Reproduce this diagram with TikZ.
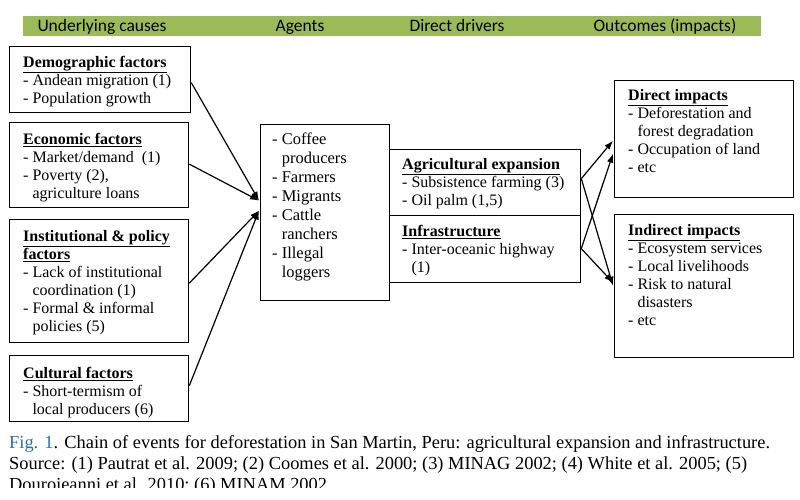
\documentclass[tikz,border=0pt]{standalone}
\usepackage{fontspec}
\setmainfont{Liberation Serif}
\newfontfamily\hdrfont{Carlito}
\usetikzlibrary{arrows.meta,calc}
\definecolor{hdrgreen}{RGB}{155,187,89}
\definecolor{figblue}{RGB}{40,110,180}
\newcommand{\ind}{\phantom{- }}
\begin{document}
\begin{tikzpicture}[x=1pt,y=-1pt,
  frame/.style={draw=black, line width=1.3pt, anchor=north west, inner sep=0pt},
  txt/.style={anchor=north west, inner sep=0pt, align=left, font=\fontsize{16}{18}\selectfont},
  link/.style={line width=1.2pt, -{Latex[length=9pt,width=6.5pt]}},
  hdr/.style={font=\hdrfont\fontsize{17.5}{20}\selectfont, anchor=base, inner sep=0pt},
  captxt/.style={anchor=base west, inner sep=0pt, font=\fontsize{18.4}{22}\selectfont}
]
\useasboundingbox (0,0) rectangle (800,500);
\clip (0,0) rectangle (800,487.5);
% header bar
\node[fill=hdrgreen, anchor=north west, inner sep=0pt, minimum width=738pt, minimum height=20pt] (bar) at (23,16) {};
\node[hdr] (h1) at (102,32) {Underlying causes};
\node[hdr] (h2) at (300,32) {Agents};
\node[hdr] (h3) at (457,32) {Direct drivers};
\node[hdr] (h4) at (665,32) {Outcomes (impacts)};
% underlying causes
\node[frame, minimum width=181pt, minimum height=66pt] (demo) at (9,46) {};
\node[txt] (demot) at (23,56) {\underline{\textbf{Demographic factors}}\\- Andean migration (1)\\- Population growth};
\node[frame, minimum width=179pt, minimum height=85pt] (econ) at (9,122) {};
\node[txt] (econt) at (23,133) {\underline{\textbf{Economic factors}}\\- Market/demand\ \ (1)\\- Poverty (2),\\\ind agriculture loans};
\node[frame, minimum width=179pt, minimum height=123pt] (inst) at (9,219) {};
\node[txt] (instt) at (23,230) {\underline{\textbf{Institutional \& policy}}\\\underline{\textbf{factors}}\\- Lack of institutional\\\ind coordination (1)\\- Formal \& informal\\\ind policies (5)};
\node[frame, minimum width=179pt, minimum height=66pt] (cult) at (9,355) {};
\node[txt] (cultt) at (23,367) {\underline{\textbf{Cultural factors}}\\- Short-termism of\\\ind local producers (6)};
% agents
\node[frame, minimum width=129pt, minimum height=176pt] (agents) at (260,124) {};
\node[txt, font=\fontsize{16.5}{19}\selectfont] (agentst) at (272,133) {- Coffee\\\ind producers\\- Farmers\\- Migrants\\- Cattle\\\ind ranchers\\- Illegal\\\ind loggers};
% direct drivers
\node[frame, minimum width=191pt, minimum height=66pt] (agri) at (389,149) {};
\node[txt] (agrit) at (402,158) {\underline{\textbf{Agricultural expansion}}\\- Subsistence farming (3)\\- Oil palm (1,5)};
\node[frame, minimum width=191pt, minimum height=67pt] (infra) at (389,215) {};
\node[txt] (infrat) at (402,225) {\underline{\textbf{Infrastructure}}\\- Inter-oceanic highway\\\ind (1)};
% outcomes
\node[frame, minimum width=179pt, minimum height=117pt] (direct) at (614,80) {};
\node[txt] (directt) at (628,89) {\underline{\textbf{Direct impacts}}\\- Deforestation and\\\ind forest degradation\\- Occupation of land\\- etc};
\node[frame, minimum width=179pt, minimum height=143pt] (indirect) at (614,214) {};
\node[txt] (indirectt) at (628,224) {\underline{\textbf{Indirect impacts}}\\- Ecosystem services\\- Local livelihoods\\- Risk to natural\\\ind disasters\\- etc};
% connector end points
\coordinate (ain1) at ($(agents.west)+(-1,-12)$);
\coordinate (ain2) at ($(agents.west)+(-1,-2)$);
\coordinate (dout1) at ($(agri.east)+(0,-4)$);
\coordinate (dout2) at ($(infra.east)+(0,-0.5)$);
\coordinate (din1) at ($(direct.west)+(-1,1.5)$);
\coordinate (din2) at ($(direct.west)+(-1,14.5)$);
\coordinate (iin1) at ($(indirect.west)+(-1,-3.5)$);
\coordinate (iin2) at ($(indirect.west)+(-1,-0.5)$);
% connectors
\draw[link] ($(demo.east)+(0,3)$) -- (ain1);
\draw[link] ($(econ.east)+(0,-1)$) -- (ain1);
\draw[link] ($(inst.east)+(0,2)$) -- (ain2);
\draw[link] ($(cult.east)+(0,-3)$) -- (ain2);
\draw[link] (dout1) -- (din1);
\draw[link] (dout1) -- (iin2);
\draw[link] (dout2) -- (din2);
\draw[link] (dout2) -- (iin1);
% caption
\node[captxt] (cap1) at (9,448) {{\color{figblue}Fig. 1}. Chain of events for deforestation in San Martin, Peru: agricultural expansion and infrastructure.};
\node[captxt] (cap2) at (9,469) {Source: (1) Pautrat et al. 2009; (2) Coomes et al. 2000; (3) MINAG 2002; (4) White et al. 2005; (5)};
\node[captxt] (cap3) at (9,490) {Dourojeanni et al. 2010; (6) MINAM 2002};
\end{tikzpicture}
\end{document}
